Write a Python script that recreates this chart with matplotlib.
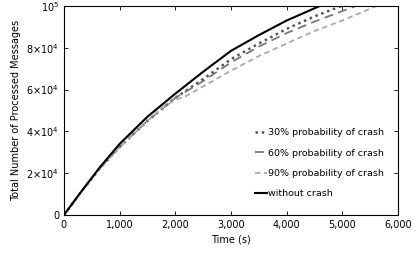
import matplotlib
matplotlib.use("Agg")
import matplotlib.pyplot as plt
from matplotlib.ticker import FuncFormatter

plt.rcParams['font.family'] = ['DejaVu Sans']

# values (time in s, messages)
t_nocrash = [0, 300, 650, 1000, 1500, 2000, 2500, 3000, 3500, 4000, 4600]
m_nocrash = [0, 10800, 23000, 34000, 47000, 58000, 68500, 78500, 86000, 93000, 100000]

t_30 = [0, 300, 650, 1000, 1500, 2000, 2500, 3000, 3500, 4000, 4500, 4990]
m_30 = [0, 10800, 22500, 32500, 45000, 56000, 65000, 74500, 82000, 89000, 95000, 100000]

t_60 = [0, 300, 650, 1000, 1500, 2000, 2500, 3000, 3500, 4000, 4500, 5000, 5250]
m_60 = [0, 10800, 22500, 32500, 45000, 56000, 64000, 73000, 80500, 87000, 92500, 97500, 100000]

t_90 = [0, 300, 650, 1000, 1500, 1800, 2000, 2200, 2500, 3000, 3500, 4000, 4500, 5000, 5620]
m_90 = [0, 10800, 22500, 32500, 45000, 52000, 55000, 57000, 61500, 69000, 76000, 82000, 88000, 93000, 100000]

fig = plt.figure(figsize=(4.15, 2.56), dpi=100)
ax = fig.add_axes([0.154, 0.160, 0.805, 0.817])

ax.plot(t_30, m_30, color='#555555', linestyle=(0, (1, 1.5)), linewidth=1.8,
        label='30% probability of crash')
ax.plot(t_60, m_60, color='#777777', linestyle=(0, (5, 3)), linewidth=1.3,
        label='60% probability of crash')
ax.plot(t_90, m_90, color='#aaaaaa', linestyle=(0, (3, 2)), linewidth=1.3,
        label='90% probability of crash')
ax.plot(t_nocrash, m_nocrash, color='black', linewidth=1.5, label='without crash')

ax.set_xlim(0, 6000)
ax.set_ylim(0, 100000)
ax.set_xticks([0, 1000, 2000, 3000, 4000, 5000, 6000])
ax.set_yticks([0, 20000, 40000, 60000, 80000, 100000])
ax.xaxis.set_major_formatter(FuncFormatter(lambda v, p: f"{int(v):,}"))
ylabs = {0: '0', 20000: r'2$\times$10$^4$', 40000: r'4$\times$10$^4$',
         60000: r'6$\times$10$^4$', 80000: r'8$\times$10$^4$', 100000: r'10$^5$'}
ax.yaxis.set_major_formatter(FuncFormatter(lambda v, p: ylabs.get(int(round(v)), '')))
ax.tick_params(direction='in', labelsize=7, top=True, right=True, length=3, width=0.6)
for s in ax.spines.values():
    s.set_linewidth(0.8)

ax.set_xlabel('Time (s)', fontsize=7, labelpad=3)
ax.set_ylabel('Total Number of Processed Messages', fontsize=7, labelpad=4)

ax.legend(loc='lower right', frameon=False, fontsize=6.8, handlelength=1.2,
          handletextpad=0.2, labelspacing=1.2, bbox_to_anchor=(0.985, 0.04))

plt.savefig('out.png', dpi=100)
